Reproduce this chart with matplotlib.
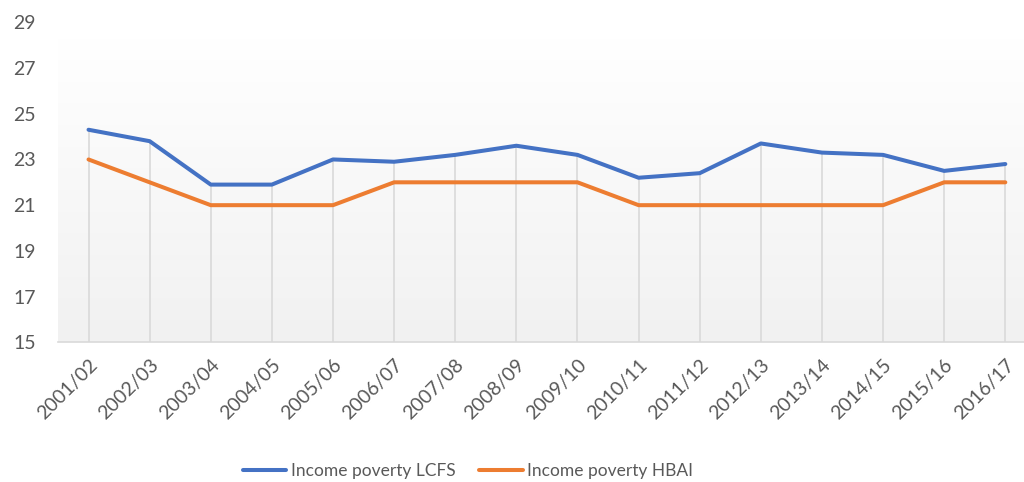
import numpy as np
import matplotlib.pyplot as plt

# Data
years = ["2001/02", "2002/03", "2003/04", "2004/05", "2005/06", "2006/07",
         "2007/08", "2008/09", "2009/10", "2010/11", "2011/12", "2012/13",
         "2013/14", "2014/15", "2015/16", "2016/17"]
lcfs = [24.3, 23.8, 21.9, 21.9, 23.0, 22.9, 23.2, 23.6,
        23.2, 22.2, 22.4, 23.7, 23.3, 23.2, 22.5, 22.8]
hbai = [23, 22, 21, 21, 21, 22, 22, 22,
        22, 21, 21, 21, 21, 21, 22, 22]
y_ticks = [15, 17, 19, 21, 23, 25, 27, 29]

plt.rcParams['font.family'] = ['Lato', 'DejaVu Sans']

fig = plt.figure(figsize=(10.24, 4.82), dpi=100)
ax = fig.add_axes([0.0566, 0.2898, 0.955, 0.6639])

x = np.arange(len(years))
ax.set_xlim(-0.5, len(years) - 0.5)
ax.set_ylim(15, 29)

# gradient plot area background (white at top, light grey at bottom)
grad = np.linspace(0, 1, 256).reshape(-1, 1)
ax.imshow(grad, extent=(-0.5, len(years) - 0.5, 15, 28.3), aspect='auto',
          cmap=plt.matplotlib.colors.LinearSegmentedColormap.from_list(
              "bg", ["#f1f1f1", "#ffffff"]),
          origin='lower', zorder=0)

# drop lines from top series down to axis
top = np.maximum(lcfs, hbai)
ax.vlines(x, 15, top, colors="#d9d9d9", linewidth=1.2, zorder=1)

ax.plot(x, lcfs, color="#4472C4", linewidth=2.9, solid_capstyle='round',
        label="Income poverty LCFS", zorder=3)
ax.plot(x, hbai, color="#ED7D31", linewidth=2.9, solid_capstyle='round',
        label="Income poverty HBAI", zorder=3)

for s in ["top", "right", "left"]:
    ax.spines[s].set_visible(False)
ax.spines["bottom"].set_color("#d9d9d9")
ax.spines["bottom"].set_linewidth(1.2)

ax.set_yticks(y_ticks)
ax.set_xticks(x)
ax.set_xticklabels(years, rotation=45, ha='right', rotation_mode='anchor')
ax.tick_params(axis='both', length=0, labelsize=14, colors="#595959")
ax.tick_params(axis='y', pad=16)
ax.tick_params(axis='x', pad=10)

fig.legend(loc='center', bbox_to_anchor=(0.457, 0.022), ncol=2, frameon=False,
           fontsize=12.5, labelcolor="#595959", handlelength=2.5,
           handletextpad=0.25, columnspacing=1.4)

fig.savefig("out.png", dpi=100)
